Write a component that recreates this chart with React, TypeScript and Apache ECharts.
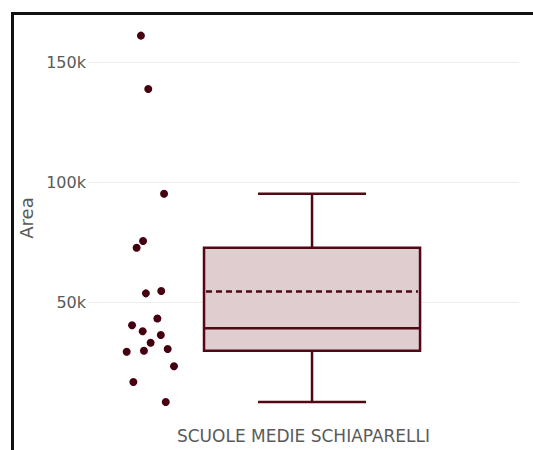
import React, { useEffect, useRef } from "react";
import * as echarts from "echarts";

const categories = ["SCUOLE MEDIE SCHIAPARELLI"];
const areaValues = [161000, 138750, 95100, 75400, 72600, 53600, 54600, 43100, 40300, 37800, 36250, 33000, 29300, 29700, 30400, 23200, 16700, 8300];
const jitterOffsets = [-0.792, -0.758, -0.685, -0.782, -0.812, -0.769, -0.698, -0.716, -0.833, -0.784, -0.7, -0.747, -0.858, -0.778, -0.668, -0.639, -0.827, -0.677];
const yTicks = [50000, 100000, 150000];

function median(a: number[]): number {
  const n = a.length;
  const m = Math.floor(n / 2);
  return n % 2 ? a[m] : (a[m - 1] + a[m]) / 2;
}

function boxStats(values: number[]) {
  const s = [...values].sort((a, b) => a - b);
  const n = s.length;
  const med = median(s);
  const lower = s.slice(0, Math.floor(n / 2));
  const upper = s.slice(Math.ceil(n / 2));
  const q1 = median(lower);
  const q3 = median(upper);
  const iqr = q3 - q1;
  const hiFence = q3 + 1.5 * iqr;
  const loFence = q1 - 1.5 * iqr;
  const whHi = Math.max(...s.filter((v) => v <= hiFence));
  const whLo = Math.min(...s.filter((v) => v >= loFence));
  const mean = s.reduce((a, b) => a + b, 0) / n;
  return [0, whLo, q1, med, q3, whHi, mean];
}

const LINE = "#520814";
const DOT = "#45000f";
const FILL = "#dfcdd0";
const TEXT = "#5a5a5a";
const FONT = "DejaVu Sans";

export default function App() {
  const ref = useRef<HTMLDivElement>(null);
  useEffect(() => {
    if (!ref.current) return;
    const chart = echarts.init(ref.current, null, { renderer: "svg" });
    const stats = boxStats(areaValues);
    chart.setOption({
      animation: false,
      grid: { left: 88, right: 14, top: 14, bottom: 28 },
      xAxis: [
        { type: "value", min: -1.037, max: 0.958, show: false },
        {
          type: "category",
          data: categories,
          position: "bottom",
          axisLine: { show: false },
          axisTick: { show: false },
          splitLine: { show: false },
          axisLabel: { color: TEXT, fontFamily: FONT, fontSize: 17, margin: 5 },
        },
      ],
      yAxis: {
        type: "value",
        min: 0,
        max: 170000,
        interval: 50000,
        name: "Area",
        nameLocation: "middle",
        nameGap: 50,
        nameTextStyle: { color: TEXT, fontFamily: FONT, fontSize: 18 },
        axisLine: { show: false },
        axisTick: { show: false },
        axisLabel: {
          color: TEXT,
          fontFamily: FONT,
          fontSize: 16,
          margin: 2,
          formatter: (v: number) => (yTicks.includes(v) ? v / 1000 + "k" : ""),
        },
        splitLine: { show: true, showMinLine: false, showMaxLine: false, lineStyle: { color: "#eeeeee", width: 1 } },
      },
      series: [
        {
          type: "custom",
          xAxisIndex: 0,
          data: [stats],
          renderItem: (params: any, api: any) => {
            const x = api.value(0);
            const lo = api.value(1), q1 = api.value(2), md = api.value(3), q3 = api.value(4), hi = api.value(5), mean = api.value(6);
            const hw = 0.5, cw = 0.25;
            const pL = api.coord([x - hw, q3]);
            const pR = api.coord([x + hw, q1]);
            const c = (xx: number, yy: number) => api.coord([xx, yy]);
            const ls = { stroke: LINE, lineWidth: 2.5, fill: null };
            return {
              type: "group",
              children: [
                { type: "line", shape: { x1: c(x, q3)[0], y1: c(x, q3)[1], x2: c(x, hi)[0], y2: c(x, hi)[1] }, style: ls },
                { type: "line", shape: { x1: c(x, q1)[0], y1: c(x, q1)[1], x2: c(x, lo)[0], y2: c(x, lo)[1] }, style: ls },
                { type: "line", shape: { x1: c(x - cw, hi)[0], y1: c(x, hi)[1], x2: c(x + cw, hi)[0], y2: c(x, hi)[1] }, style: ls },
                { type: "line", shape: { x1: c(x - cw, lo)[0], y1: c(x, lo)[1], x2: c(x + cw, lo)[0], y2: c(x, lo)[1] }, style: ls },
                {
                  type: "rect",
                  shape: { x: pL[0], y: pL[1], width: pR[0] - pL[0], height: pR[1] - pL[1] },
                  style: { fill: FILL, stroke: LINE, lineWidth: 2.5 },
                },
                { type: "line", shape: { x1: c(x - hw, md)[0], y1: c(x, md)[1], x2: c(x + hw, md)[0], y2: c(x, md)[1] }, style: ls },
                {
                  type: "line",
                  shape: { x1: c(x - hw, mean)[0] + 2, y1: c(x, mean)[1], x2: c(x + hw, mean)[0] - 2, y2: c(x, mean)[1] },
                  style: { stroke: LINE, lineWidth: 2.5, lineDash: [6, 4] },
                },
              ],
            };
          },
        },
        {
          type: "scatter",
          xAxisIndex: 0,
          symbolSize: 8,
          itemStyle: { color: DOT, opacity: 1 },
          data: areaValues.map((v, i) => [jitterOffsets[i], v]),
        },
      ],
    });
    return () => chart.dispose();
  }, []);
  return (
    <div style={{ position: "fixed", left: 0, top: 0, width: 533, height: 450, overflow: "hidden", background: "#fff" }}>
      <div ref={ref} style={{ position: "absolute", left: 0, top: 0, width: 533, height: 450 }} />
      <div
        style={{
          position: "absolute",
          left: 11,
          top: 12,
          width: 700,
          height: 700,
          borderLeft: "3px solid #111",
          borderTop: "3px solid #111",
          pointerEvents: "none",
        }}
      />
    </div>
  );
}
